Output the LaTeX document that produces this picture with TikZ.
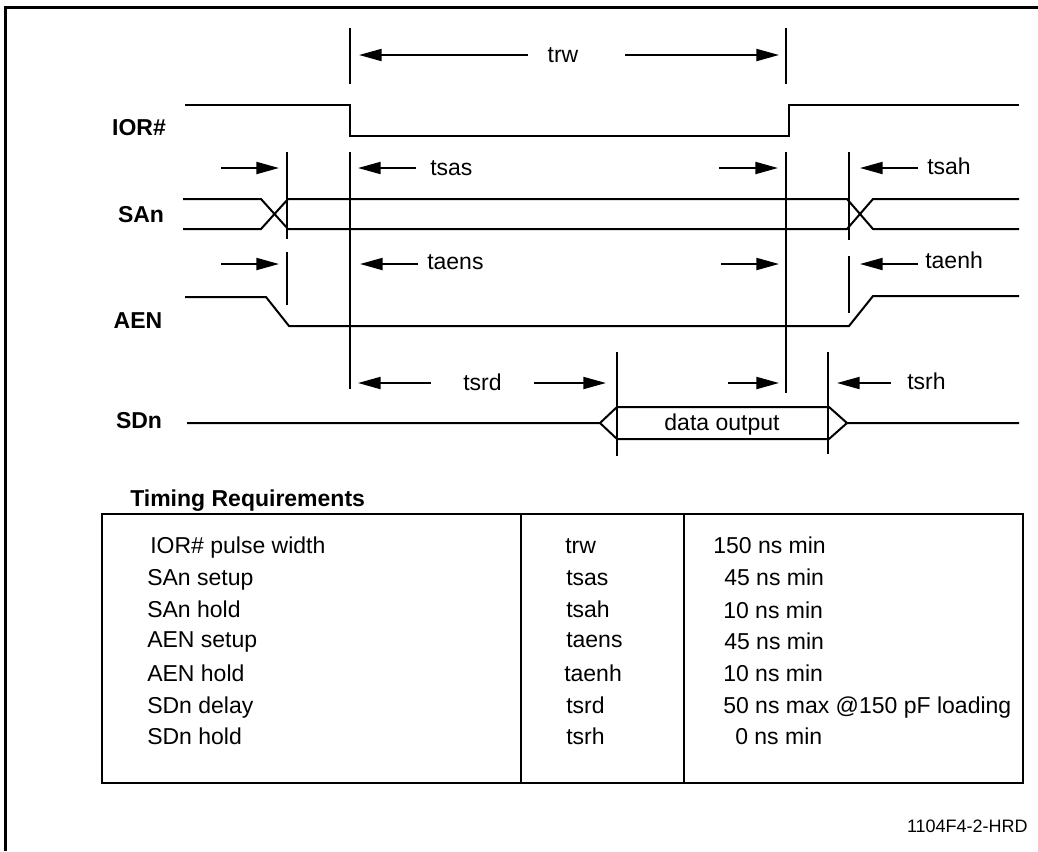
\documentclass[tikz,border=0pt]{standalone}
\usepackage{fontspec}
\setmainfont{Liberation Sans}
\usetikzlibrary{arrows.meta}

\tikzset{
  sig/.style={line width=1.5pt},
  tickline/.style={line width=1.5pt},
  dimarrow/.style={line width=1.5pt,-{Triangle[length=17pt,width=9pt]}},
  siglabel/.style={font=\fontsize{17.25}{20}\selectfont\bfseries,inner sep=0pt,anchor=base},
  dimlabel/.style={font=\fontsize{17.25}{20}\selectfont,inner sep=0pt,anchor=base west},
  cell/.style={font=\fontsize{17.25}{20}\selectfont,inner sep=0pt,anchor=base west}
}

\begin{document}
\begin{tikzpicture}[line cap=butt,line join=miter,x=0.75pt,y=-0.75pt]
\useasboundingbox (0,0) rectangle (1038,851);
% frame
\draw[line width=2.25pt] (5.5,851) -- (5.5,7.5) -- (1038,7.5);

% signal names
\node[siglabel] (ior) at (139,135) {IOR\#};
\node[siglabel] (san) at (141,222) {SAn};
\node[siglabel] (aen) at (138,328) {AEN};
\node[siglabel] (sdn) at (139,428) {SDn};

% IOR#
\draw[sig] (185,105) -- (350,105) -- (350,136) -- (789,136) -- (789,105) -- (1019,105);
% SAn
\draw[sig] (183,199) -- (261,199) -- (288,229) -- (847,229) -- (873,199) -- (1019,199);
\draw[sig] (183,229) -- (261,229) -- (288,199) -- (847,199) -- (873,229) -- (1019,229);
% AEN
\draw[sig] (185,297) -- (266,297) -- (289,326) -- (849,326) -- (873,296) -- (1019,296);
% SDn
\draw[sig] (187,423) -- (600,423) -- (617,407) -- (829,407) -- (847,423) -- (1019,423);
\draw[sig] (600,423) -- (617,439) -- (829,439) -- (847,423);
\node[font=\fontsize{17.25}{20}\selectfont,inner sep=0pt,anchor=base] (dout) at (722,430) {data output};

% marker lines
\draw[tickline] (350,28) -- (350,84);
\draw[tickline] (786,28) -- (786,84);
\draw[tickline] (287,152) -- (287,239);
\draw[tickline] (287,252) -- (287,305);
\draw[tickline] (350,152) -- (350,389);
\draw[tickline] (786,152) -- (786,393);
\draw[tickline] (849,152) -- (849,240);
\draw[tickline] (849,256) -- (849,313);
\draw[tickline] (617,352) -- (617,456);
\draw[tickline] (828,352) -- (828,454);

% trw
\draw[dimarrow] (528,55) -- (359,55);
\draw[dimarrow] (625,55) -- (779,55);
\node[font=\fontsize{17.25}{20}\selectfont,inner sep=0pt,anchor=base] (trw) at (563,62) {trw};

% tsas / tsah
\draw[dimarrow] (221,168) -- (279,168);
\draw[dimarrow] (416,168) -- (358,168);
\node[dimlabel] (tsas) at (430,175) {tsas};
\draw[dimarrow] (719,168) -- (778,168);
\draw[dimarrow] (918,168) -- (860,168);
\node[dimlabel] (tsah) at (927,174) {tsah};

% taens / taenh
\draw[dimarrow] (221,264) -- (279,264);
\draw[dimarrow] (418,264) -- (360,264);
\node[dimlabel] (taens) at (427,269) {taens};
\draw[dimarrow] (721,264) -- (779,264);
\draw[dimarrow] (918,264) -- (860,264);
\node[dimlabel] (taenh) at (925,268) {taenh};

% tsrd / tsrh
\draw[dimarrow] (431,383) -- (358,383);
\node[dimlabel] (tsrd) at (463,390) {tsrd};
\draw[dimarrow] (534,383) -- (606,383);
\draw[dimarrow] (728,383) -- (779,383);
\draw[dimarrow] (891,383) -- (837,383);
\node[dimlabel] (tsrh) at (907,389) {tsrh};

% timing table
\node[font=\fontsize{17.25}{20}\selectfont\bfseries,inner sep=0pt,anchor=base west] (title) at (130,506) {Timing Requirements};
\draw[line width=1.5pt] (102,514) rectangle (1023,783);
\draw[line width=1.5pt] (521,514) -- (521,783);
\draw[line width=1.5pt] (684,514) -- (684,783);

\node[cell] (p1) at (150,553) {IOR\# pulse width};
\node[cell] (p2) at (147,585) {SAn setup};
\node[cell] (p3) at (147,617) {SAn hold};
\node[cell] (p4) at (147,647) {AEN setup};
\node[cell] (p5) at (147,681) {AEN hold};
\node[cell] (p6) at (147,713) {SDn delay};
\node[cell] (p7) at (147,744) {SDn hold};

\node[cell] (s1) at (565,553) {trw};
\node[cell] (s2) at (566,585) {tsas};
\node[cell] (s3) at (566,617) {tsah};
\node[cell] (s4) at (566,647) {taens};
\node[cell] (s5) at (564,681) {taenh};
\node[cell] (s6) at (566,713) {tsrd};
\node[cell] (s7) at (566,744) {tsrh};

\node[cell] (v1) at (713,553) {150 ns min};
\node[cell] (v2) at (724,585) {45 ns min};
\node[cell] (v3) at (723,618) {10 ns min};
\node[cell] (v4) at (724,649) {45 ns min};
\node[cell] (v5) at (723,681) {10 ns min};
\node[cell] (v6) at (723,713) {50 ns max @150 pF loading};
\node[cell] (v7) at (735,744) {0 ns min};

\node[font=\fontsize{13.5}{16}\selectfont,inner sep=0pt,anchor=base east] (figno) at (1028,832) {1104F4-2-HRD};
\end{tikzpicture}
\end{document}
